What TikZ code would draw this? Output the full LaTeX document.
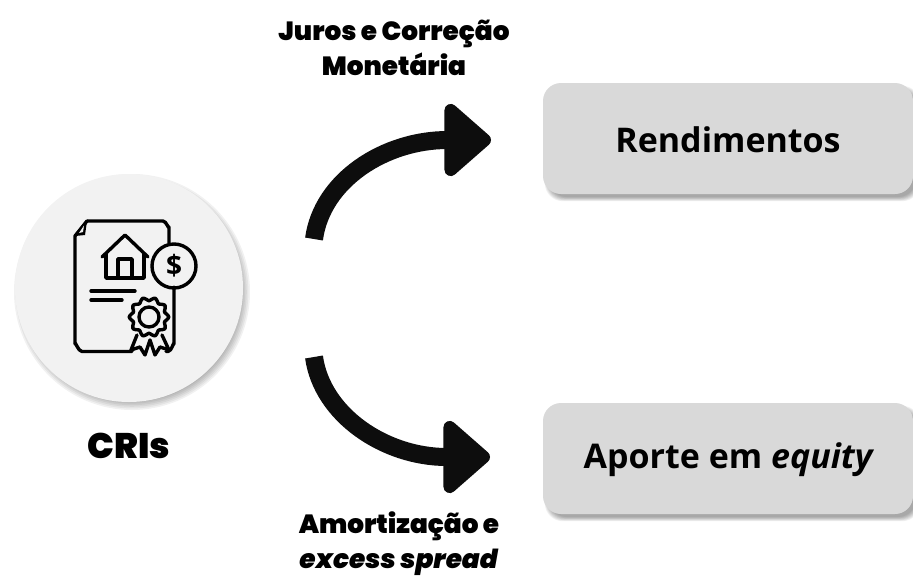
\documentclass[tikz,border=0pt]{standalone}
\usepackage{fontspec}
\setmainfont{Open Sans}
\newfontfamily\heavyfont{Poppins}[UprightFont=* Black,ItalicFont=* Black Italic]
\usetikzlibrary{arrows.meta,calc}
\definecolor{discgray}{HTML}{F2F2F2}
\definecolor{boxgray}{HTML}{D9D9D9}
\definecolor{inkblack}{HTML}{0D0D0D}
\tikzset{
  x=1pt,y=-1pt,
  boxnode/.style={rounded corners=18pt,fill=boxgray,minimum width=370pt,minimum height=111pt,inner sep=0pt},
  boxtext/.style={font=\fontsize{34}{38}\selectfont\bfseries,text=black,inner sep=0pt},
  labelnode/.style={font=\fontsize{26.3}{35}\selectfont\heavyfont,text=black,align=center,inner sep=0pt},
  curvearrow/.style={line width=18pt,draw=inkblack,-{Triangle[round,length=50pt,width=84pt]}},
  iconline/.style={line width=3.4pt,draw=black,line cap=round,line join=round},
}
\begin{document}
\begin{tikzpicture}
\useasboundingbox (0,0) rectangle (913,576);
% disc shadow
\foreach \g in {10,8,6,4,2,0}{
  \fill[black,opacity=0.055] (132,292) circle[radius={110+\g*0.8}];
}
\node[circle,fill=discgray,minimum size=228pt,inner sep=0pt] (disc) at (129,288) {};
% box shadows
\foreach \g in {7,6,5,4,3,2,1,0}{
  \fill[black,opacity=0.05,rounded corners=18pt] ({543+6-\g*0.6},{83+7-\g*0.6}) rectangle ({913+3+\g*0.6},{194+3+\g*0.6});
  \fill[black,opacity=0.05,rounded corners=18pt] ({543+6-\g*0.6},{403+7-\g*0.6}) rectangle ({913+3+\g*0.6},{514+3+\g*0.6});
}
\node[boxnode] (rend) at (728,138.5) {};
\node[boxnode] (aporte) at (728,458.5) {};
\node[boxtext] (rendt) at (728,140) {Rendimentos};
\node[boxtext] (aportet) at (729,460) {Aporte em \textit{equity}};
% icon
\draw[iconline] (87,221) -- (163,221) to[out=0,in=-90] (169,227) -- (169,243);
\draw[iconline] (87,221) -- (75,236) -- (75,344);
\draw[iconline] (75,344) to[out=90,in=180] (82,351.5) -- (132,351.5);
\draw[iconline] (174,287) -- (174,344) to[out=90,in=0] (168,351.5) -- (166,351.5);
\fill[black] (87,221) -- (85,235) -- (75,236) -- cycle;
\fill[discgray] (84,225.5) -- (83,232) -- (79,233) -- cycle;
\draw[iconline] (102,257) -- (125,235) -- (148,257);
\draw[iconline] (106,254) -- (106,278) -- (144,278) -- (144,254);
\draw[iconline] (118,278) -- (118,259) -- (132,259) -- (132,278);
\node[circle,draw=black,line width=3.4pt,minimum size=44pt,inner sep=0pt,font=\fontsize{28}{28}\selectfont\bfseries] (coin) at (174,266) {\$};
\draw[iconline] (91,291) -- (135,291);
\draw[iconline] (91,300) -- (122,300);
\draw[iconline] plot[smooth cycle,samples at={0,9,...,351}] ({149+(18+1.8*cos(10*\x))*cos(\x)},{317+(18+1.8*cos(10*\x))*sin(\x)});
\draw[iconline] (149,317) circle[radius=10];
\draw[iconline] (137,335) -- (131,350) -- (140,347) -- (145,355) -- (150,340) -- (155,355) -- (160,347) -- (169,350) -- (162,335);
% labels
\node[labelnode] (juros) at (394,48) {Juros e Correção\\Monetária};
\node[labelnode] (cris) at (129,446) {\fontsize{35.5}{35.5}\selectfont CRIs};
\node[labelnode] (amort) at (399,543.5) {Amortização e\\\textit{excess spread}};
% arrows
\coordinate (a1s) at (314,239);
\coordinate (a1e) at (491,140);
\coordinate (a2s) at (314,357);
\coordinate (a2e) at (490,457);
\draw[curvearrow] (a1s) .. controls (322,180) and (385,140) .. (a1e);
\draw[curvearrow] (a2s) .. controls (322,415) and (385,457) .. (a2e);
\end{tikzpicture}
\end{document}
